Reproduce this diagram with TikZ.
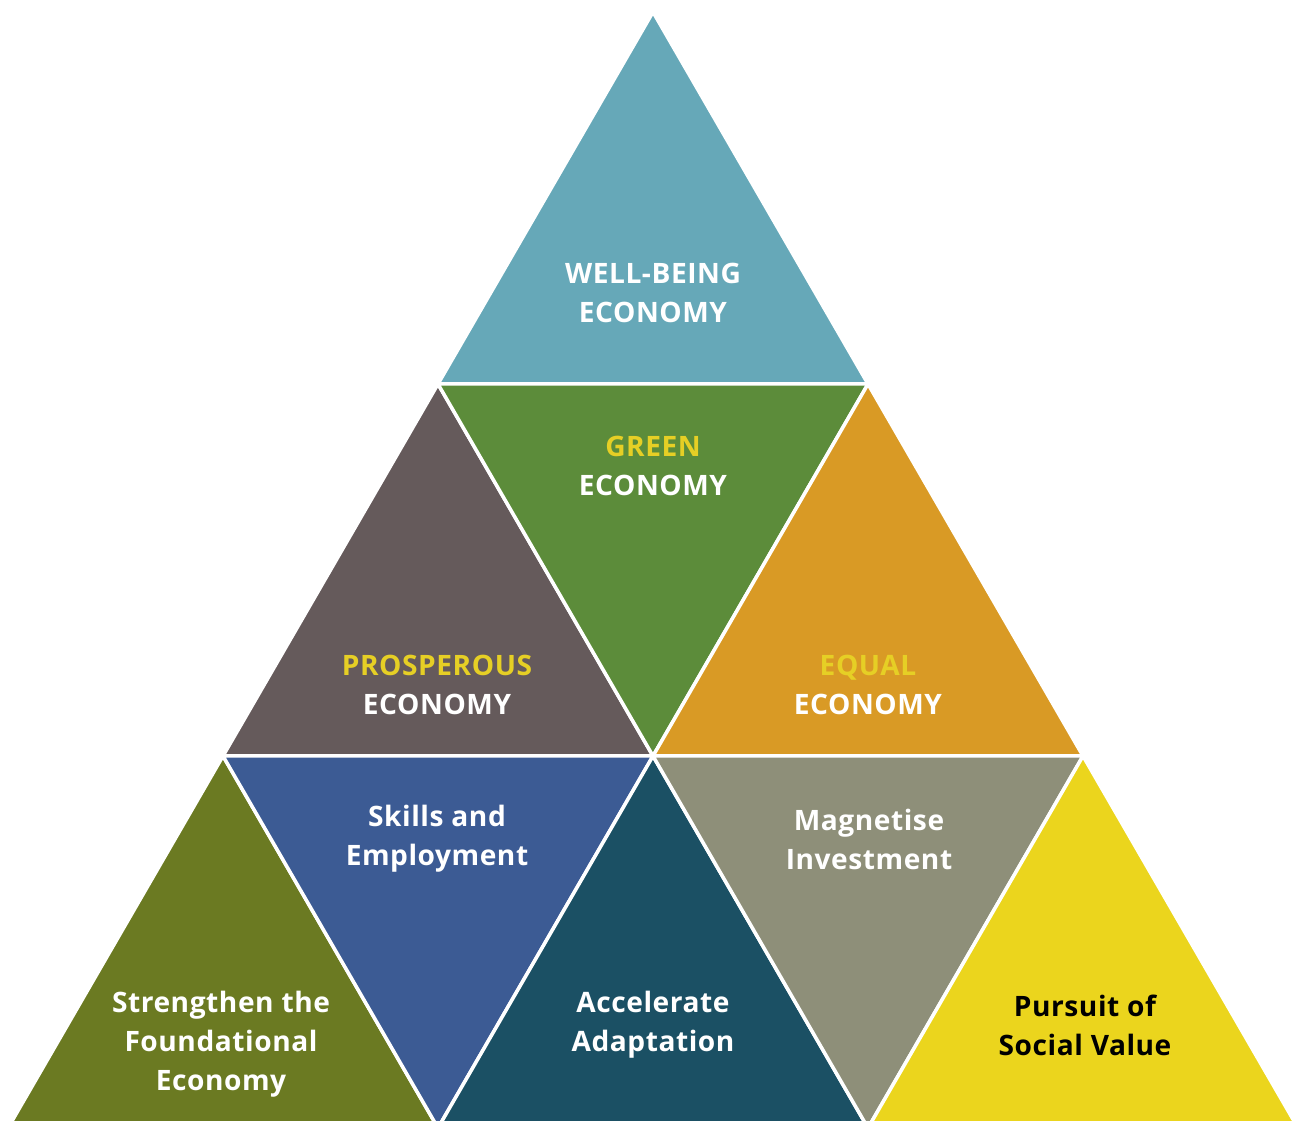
\documentclass[tikz,border=0pt]{standalone}
\usepackage{fontspec}
\setmainfont{Open Sans}[LetterSpace=2]
\usepackage{xcolor}
\definecolor{wellblue}{HTML}{66A8B8}
\definecolor{greeneco}{HTML}{5C8C3A}
\definecolor{prosgrey}{HTML}{655A5B}
\definecolor{equalgold}{HTML}{D99A25}
\definecolor{foundolive}{HTML}{6B7A22}
\definecolor{skillsblue}{HTML}{3C5B94}
\definecolor{adaptteal}{HTML}{1B5064}
\definecolor{magnetgrey}{HTML}{8E8F79}
\definecolor{socialyellow}{HTML}{EBD51D}
\definecolor{headyellow}{HTML}{E6CF25}
\tikzset{
    tri-face/.style = {draw=white, line width=0.07cm, line join=miter},
    tri-label/.style = {text=white, font=\fontsize{16}{22.2}\selectfont\bfseries, align=center, inner sep=0pt},
}
\begin{document}
\begin{tikzpicture}[x=0.02cm,y=-0.02cm]
\useasboundingbox (0,0) rectangle (1299,1121);
\clip (0,0) rectangle (1299,1121);
% corners of the small triangles
\coordinate (a1) at (653,12);
\coordinate (b1) at (438,384);
\coordinate (b2) at (868,384);
\coordinate (c1) at (223,756);
\coordinate (c2) at (653,756);
\coordinate (c3) at (1083,756);
\coordinate (d1) at (8,1128);
\coordinate (d2) at (438,1128);
\coordinate (d3) at (868,1128);
\coordinate (d4) at (1298,1128);

\filldraw[tri-face, fill=wellblue] (a1) -- (b1) -- (b2) -- cycle;
\filldraw[tri-face, fill=prosgrey] (b1) -- (c1) -- (c2) -- cycle;
\filldraw[tri-face, fill=greeneco] (b1) -- (b2) -- (c2) -- cycle;
\filldraw[tri-face, fill=equalgold] (b2) -- (c2) -- (c3) -- cycle;
\filldraw[tri-face, fill=foundolive] (c1) -- (d1) -- (d2) -- cycle;
\filldraw[tri-face, fill=skillsblue] (c1) -- (c2) -- (d2) -- cycle;
\filldraw[tri-face, fill=adaptteal] (c2) -- (d2) -- (d3) -- cycle;
\filldraw[tri-face, fill=magnetgrey] (c2) -- (c3) -- (d3) -- cycle;
\filldraw[tri-face, fill=socialyellow] (c3) -- (d3) -- (d4) -- cycle;

\node[tri-label] (wellbeing) at (653,293) {WELL-BEING\\ECONOMY};
\node[tri-label] (green) at (653,466) {\textcolor{headyellow}{GREEN}\\ECONOMY};
\node[tri-label] (prosperous) at (437,685) {\textcolor{headyellow}{PROSPEROUS}\\ECONOMY};
\node[tri-label] (equal) at (868,685) {\textcolor{headyellow}{EQUAL}\\ECONOMY};
\node[tri-label] (skills) at (437,839) {Skills and\\Employment};
\node[tri-label] (magnetise) at (869,839) {Magnetise\\Investment};
\node[tri-label] (foundational) at (221,1044) {Strengthen the\\Foundational\\Economy};
\node[tri-label] (adaptation) at (653,1025) {Accelerate\\Adaptation};
\node[tri-label, text=black] (social) at (1085,1025) {Pursuit of\\Social Value};
\end{tikzpicture}
\end{document}
